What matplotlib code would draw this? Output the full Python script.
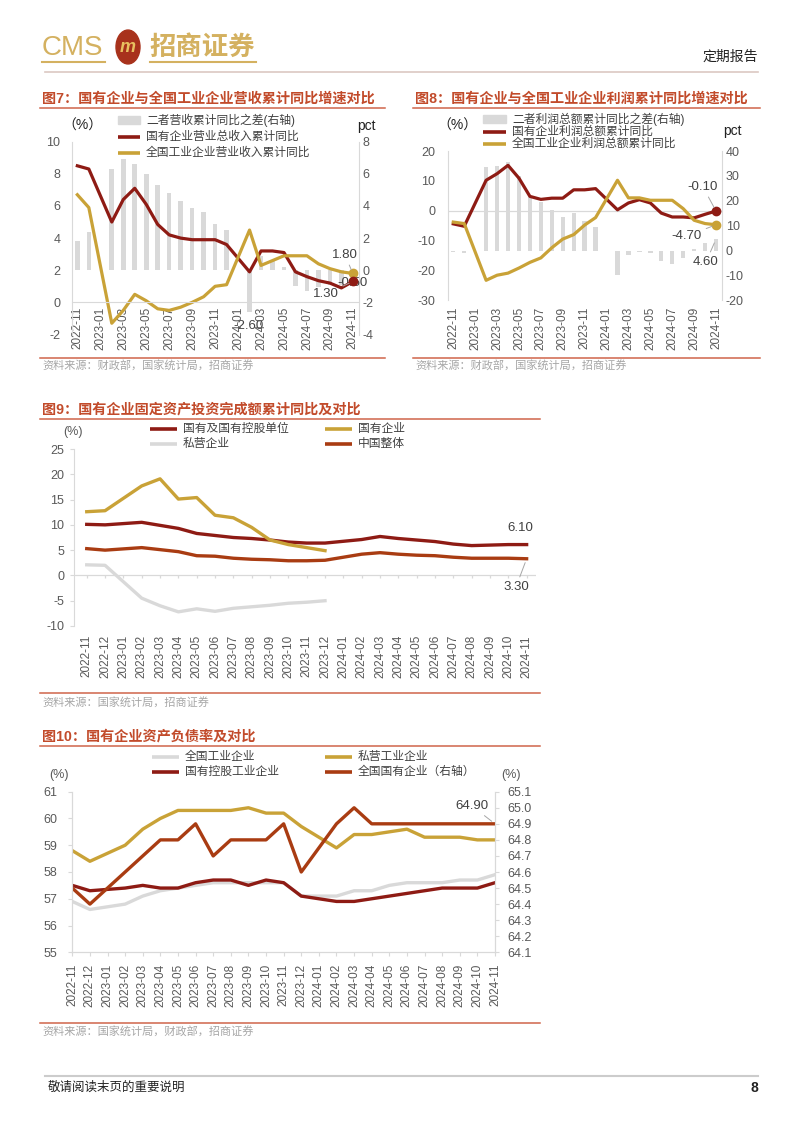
import numpy as np
import matplotlib.pyplot as plt
from matplotlib.lines import Line2D
from matplotlib.patches import Rectangle, Circle

plt.rcParams['font.family'] = ['Liberation Sans', 'Noto Sans CJK SC', 'DejaVu Sans']
plt.rcParams['axes.unicode_minus'] = False

months = ['2022-11', '2022-12', '2023-01', '2023-02', '2023-03', '2023-04', '2023-05',
          '2023-06', '2023-07', '2023-08', '2023-09', '2023-10', '2023-11', '2023-12',
          '2024-01', '2024-02', '2024-03', '2024-04', '2024-05', '2024-06', '2024-07',
          '2024-08', '2024-09', '2024-10', '2024-11']

# 图7 营收累计同比 (%), 差值 (pct)
soe_rev = [8.5, 8.3, None, 5.0, 6.4, 7.1, 6.1, 4.85, 4.2, 4.0, 3.9, 3.9, 3.9, 3.6, None,
           1.9, 3.2, 3.2, 3.1, 1.9, 1.6, 1.35, 1.2, 0.9, 1.3]
ind_rev = [6.7, 5.9, None, -1.3, -0.5, 0.5, 0.1, -0.4, -0.5, -0.3, 0.0, 0.35, 1.0, 1.1, None,
           4.5, 2.3, 2.6, 2.9, 2.9, 2.9, 2.4, 2.1, 1.9, 1.8]
rev_gap = [1.8, 2.4, None, 6.3, 6.9, 6.6, 6.0, 5.3, 4.8, 4.3, 3.9, 3.6, 2.9, 2.5, None,
           -2.6, 0.9, 0.6, 0.2, -1.0, -1.3, -1.05, -0.9, -0.9, -0.5]

# 图8 利润总额累计同比 (%), 差值 (pct)
soe_profit = [-4.4, -5.2, None, 10.2, 12.4, 15.2, 10.9, 4.8, 3.8, 4.2, 4.2, 7.0, 7.0, 7.4, None,
              0.3, 2.6, 3.7, 2.6, -0.8, -2.1, -2.1, -2.4, -1.2, -0.1]
ind_profit = [-3.8, -4.3, None, -23.3, -21.6, -20.9, -19.2, -17.3, -15.8, -12.4, -9.5, -8.0, -4.8,
              -2.3, None, 10.2, 4.3, 4.3, 3.5, 3.5, 3.5, 0.7, -3.2, -4.3, -4.7]
profit_gap = [-0.6, -0.9, None, 33.5, 34.0, 35.6, 30.1, 21.5, 19.6, 16.2, 13.4, 15.0, 11.8, 9.4,
              None, -9.9, -1.7, -0.6, -0.9, -4.3, -5.6, -2.8, 0.8, 3.0, 4.6]

# 图9 固定资产投资完成额累计同比 (%)
fai_soe_unit = [10.1, 10.0, None, 10.5, 9.9, 9.3, 8.3, 7.9, 7.5, 7.3, 7.0, 6.6, 6.4, 6.4, None,
                7.1, 7.7, 7.3, 7.0, 6.7, 6.2, 5.9, 6.0, 6.1, 6.1]
fai_soe_ent = [12.6, 12.8, None, 17.7, 19.1, 15.1, 15.4, 11.9, 11.4, 9.5, 7.0, 6.1, 5.5, 4.9,
               None, None, None, None, None, None, None, None, None, None, None]
fai_private = [2.1, 2.0, None, -4.5, -6.0, -7.2, -6.6, -7.1, -6.5, -6.2, -5.9, -5.5, -5.3, -5.0,
               None, None, None, None, None, None, None, None, None, None, None]
fai_china = [5.3, 5.0, None, 5.5, 5.1, 4.7, 3.9, 3.8, 3.4, 3.2, 3.1, 2.9, 2.9, 3.0, None,
             4.2, 4.5, 4.2, 4.0, 3.9, 3.6, 3.4, 3.4, 3.4, 3.3]

# 图10 资产负债率 (%)
lev_all_ind = [56.9, 56.6, None, 56.8, 57.1, 57.3, 57.4, 57.5, 57.6, 57.6, 57.6, 57.6, 57.6, 57.1,
               None, 57.1, 57.3, 57.3, 57.5, 57.6, 57.6, 57.6, 57.7, 57.7, 57.9]
lev_private = [58.8, 58.4, None, 59.0, 59.6, 60.0, 60.3, 60.3, 60.3, 60.3, 60.4, 60.2, 60.2, 59.7,
               None, 58.9, 59.4, 59.4, 59.5, 59.6, 59.3, 59.3, 59.3, 59.2, 59.2]
lev_soe_ind = [57.5, 57.3, None, 57.4, 57.5, 57.4, 57.4, 57.6, 57.7, 57.7, 57.5, 57.7, 57.6, 57.1,
               None, 56.9, 56.9, 57.0, 57.1, 57.2, 57.3, 57.4, 57.4, 57.4, 57.6]
lev_soe_all = [64.5, 64.4, None, 64.6, 64.7, 64.8, 64.8, 64.9, 64.7, 64.8, 64.8, 64.8, 64.9, 64.6,
               None, 64.9, 65.0, 64.9, 64.9, 64.9, 64.9, 64.9, 64.9, 64.9, 64.9]

RED = '#8E1B14'
GOLD = '#C9A237'
LGRAY = '#D9D9D9'
BROWN = '#A93C12'
TITLE = '#C24B2B'
RULE = '#D0654A'
AXC = '#D9D9D9'
TXT = '#595959'
LEG = '#404040'

W, H = 802, 1133
fig = plt.figure(figsize=(W / 100, H / 100), dpi=100)
xi = np.arange(len(months))


def add_ax(l, t, r, b):
    return fig.add_axes([l / W, 1 - b / H, (r - l) / W, (b - t) / H])


def ftext(x, y, s, **kw):
    fig.text(x / W, 1 - y / H, s, **kw)


def fline(x0, y0, x1, y1, **kw):
    fig.add_artist(Line2D([x0 / W, x1 / W], [1 - y0 / H, 1 - y1 / H], **kw))


def pts(vals):
    a = np.array(vals, dtype=float)
    m = ~np.isnan(a)
    return xi[m], a[m]


def legend_item(x, y, kind, color, label, hw=27):
    if kind == 'bar':
        fig.add_artist(Rectangle((x / W, 1 - (y + 3.5) / H), hw / W, 7 / H, color=color))
    else:
        fline(x, y, x + hw, y, color=color, lw=2.6, solid_capstyle='butt')
    ftext(x + hw + 6, y, label, va='center', fontsize=8.5, color=LEG)


def note(ax, s, xy, tx, ty, arrow=True, **kw):
    ap = dict(arrowstyle='-', color='#A6A6A6', lw=0.7, shrinkA=1, shrinkB=3) if arrow else None
    ax.annotate(s, xy=xy, xytext=(tx / W, 1 - ty / H), textcoords='figure fraction',
                ha='center', va='center', fontsize=9.5, color=LEG, arrowprops=ap,
                annotation_clip=False, **kw)


def header_block(x0, x1, title, src, ysrc, ytitle):
    ftext(x0 + 2, ytitle, title, fontsize=10.2, fontweight='bold', color=TITLE, va='center')
    fline(x0, ytitle + 8.5, x1, ytitle + 8.5, color=RULE, lw=1.1)
    fline(x0, ysrc, x1, ysrc, color=RULE, lw=1.1)
    ftext(x0 + 2, ysrc + 9, src, fontsize=8, color='#A6A6A6', va='center')


def style_y(ax, pad, length=0):
    ax.tick_params(axis='y', labelsize=9, colors=TXT, length=length, pad=pad, color=AXC)


# ---------------- page header / footer ----------------
ftext(42, 48, 'CMS', fontsize=20, color='#D4B160', va='center')
fig.add_artist(Circle((128 / W, 1 - 47 / H), 12 / W, color='#A8321C', transform=fig.transFigure))
ftext(128, 47, 'm', fontsize=13, fontweight='bold', style='italic', color='#E8C060',
      ha='center', va='center')
ftext(149, 47, '招商证券', fontsize=19, fontweight='bold', color='#D4B160', va='center')
fline(42, 62, 105, 62, color='#D4B160', lw=1.5)
fline(150, 62, 256, 62, color='#D4B160', lw=1.5)
ftext(758, 57, '定期报告', fontsize=10, color='#222222', ha='right', va='center')
fline(45, 72, 758, 72, color='#DCC8C2', lw=1.2)
fline(45, 1076, 758, 1076, color='#CCCCCC', lw=1.5)
ftext(48, 1088, '敬请阅读末页的重要说明', fontsize=9, color='#222222', va='center')
ftext(758, 1088, '8', fontsize=10, fontweight='bold', color='#222222', ha='right', va='center')

# ---------------- 图7 ----------------
header_block(40, 385, '图7：国有企业与全国工业企业营收累计同比增速对比',
             '资料来源：财政部，国家统计局，招商证券', 357.5, 99)
ax7 = add_ax(71.6, 141.7, 358.6, 334.5)
ax7r = ax7.twinx()
for a in (ax7, ax7r):
    for s in a.spines.values():
        s.set_visible(False)
ax7.spines['bottom'].set_position(('data', 0))
ax7.spines['bottom'].set_visible(True)
ax7.spines['bottom'].set_color(AXC)
ax7.spines['left'].set_visible(True)
ax7.spines['left'].set_color(AXC)
ax7r.spines['right'].set_visible(True)
ax7r.spines['right'].set_color(AXC)
ax7r.bar(xi, np.array(rev_gap, dtype=float), width=0.4, color=LGRAY)
ax7r.set_ylim(-4, 8)
ax7r.set_yticks(range(-4, 9, 2))
ax7.set_zorder(ax7r.get_zorder() + 1)
ax7.patch.set_visible(False)
ax7.plot(*pts(soe_rev), color=RED, lw=2.3)
ax7.plot(*pts(ind_rev), color=GOLD, lw=2.3)
ax7.plot(xi[-1], ind_rev[-1], 'o', color=GOLD, ms=6)
ax7.plot(xi[-1], soe_rev[-1], 'o', color=RED, ms=6)
ax7.set_xlim(-0.5, 24.5)
ax7.set_ylim(-2, 10)
ax7.set_yticks(range(-2, 11, 2))
ax7.set_xticks(xi[::2])
ax7.set_xticklabels(months[::2], rotation=90, fontsize=8.5, color=TXT)
ax7.tick_params(axis='x', length=0, pad=3)
style_y(ax7, 8)
style_y(ax7r, 3)
ftext(62, 126, '（%）', fontsize=10, color='#222222', va='center')
ftext(357, 126, 'pct', fontsize=10, color='#222222', va='center')
legend_item(118, 120, 'bar', LGRAY, '二者营收累计同比之差(右轴)', hw=22)
legend_item(118, 136.5, 'line', RED, '国有企业营业总收入累计同比', hw=22)
legend_item(118, 152.5, 'line', GOLD, '全国工业企业营业收入累计同比', hw=22)
note(ax7, '%.2f' % ind_rev[-1], (xi[-1], ind_rev[-1]), 345, 255)
note(ax7, '%.2f' % soe_rev[-1], (xi[-1], soe_rev[-1]), 326, 294)
note(ax7r, '%.2f' % rev_gap[-1], (xi[-1], rev_gap[-1]), 352, 283, arrow=False)
note(ax7r, '%.2f' % rev_gap[15], (xi[15], rev_gap[15]), 248, 326, arrow=False)

# ---------------- 图8 ----------------
header_block(413, 760, '图8：国有企业与全国工业企业利润累计同比增速对比',
             '资料来源：财政部，国家统计局，招商证券', 357.5, 99)
ax8 = add_ax(447.8, 151, 721.5, 300.3)
ax8r = ax8.twinx()
ax8r.bar(xi, np.array(profit_gap, dtype=float), width=0.4, color=LGRAY)
ax8r.set_ylim(-20, 40)
ax8r.set_yticks(range(-20, 41, 10))
ax8.set_zorder(ax8r.get_zorder() + 1)
ax8.patch.set_visible(False)
ax8.axhline(0, color=AXC, lw=0.9)
ax8.plot(*pts(soe_profit), color=RED, lw=2.3)
ax8.plot(*pts(ind_profit), color=GOLD, lw=2.3)
ax8.plot(xi[-1], soe_profit[-1], 'o', color=RED, ms=6)
ax8.plot(xi[-1], ind_profit[-1], 'o', color=GOLD, ms=6)
ax8.set_xlim(-0.5, 24.5)
ax8.set_ylim(-30, 20)
ax8.set_yticks(range(-30, 21, 10))
ax8.set_xticks(xi[::2])
ax8.set_xticklabels(months[::2], rotation=90, fontsize=8.5, color=TXT)
ax8.tick_params(axis='x', length=0, pad=4.5)
for a in (ax8, ax8r):
    for s in a.spines.values():
        s.set_visible(False)
ax8.spines['left'].set_visible(True)
ax8.spines['left'].set_color(AXC)
ax8r.spines['right'].set_visible(True)
ax8r.spines['right'].set_color(AXC)
style_y(ax8, 9)
style_y(ax8r, 3)
ftext(437, 126, '（%）', fontsize=10, color='#222222', va='center')
ftext(723, 131, 'pct', fontsize=10, color='#222222', va='center')
legend_item(483, 119, 'bar', LGRAY, '二者利润总额累计同比之差(右轴)', hw=23)
legend_item(483, 131.5, 'line', RED, '国有企业利润总额累计同比', hw=23)
legend_item(483, 143.5, 'line', GOLD, '全国工业企业利润总额累计同比', hw=23)
note(ax8, '%.2f' % soe_profit[-1], (xi[-1], soe_profit[-1]), 703, 187)
note(ax8, '%.2f' % ind_profit[-1], (xi[-1], ind_profit[-1]), 687, 236)
note(ax8r, '%.2f' % profit_gap[-1], (xi[-1], profit_gap[-1]), 706, 262)

# ---------------- 图9 ----------------
header_block(40, 540, '图9：国有企业固定资产投资完成额累计同比及对比',
             '资料来源：国家统计局，招商证券', 693, 410)
ax9 = add_ax(73.9, 449, 535.8, 626)
ax9.axhline(0, color=AXC, lw=0.9)
ax9.vlines(xi, -0.6, 0, color=AXC, lw=0.9)
ax9.plot(*pts(fai_private), color=LGRAY, lw=2.4)
ax9.plot(*pts(fai_china), color=BROWN, lw=2.4)
ax9.plot(*pts(fai_soe_unit), color=RED, lw=2.4)
ax9.plot(*pts(fai_soe_ent), color=GOLD, lw=2.4)
ax9.set_xlim(-0.7, 24.5)
ax9.set_ylim(-10, 25)
ax9.set_yticks(range(-10, 26, 5))
ax9.set_xticks(xi)
ax9.set_xticklabels(months, rotation=90, fontsize=8.5, color=TXT)
ax9.tick_params(axis='x', length=0, pad=6.5)
for s in ax9.spines.values():
    s.set_visible(False)
ax9.spines['left'].set_visible(True)
ax9.spines['left'].set_color(AXC)
style_y(ax9, 4, length=3)
ftext(73, 432, '(%)', fontsize=9, color=TXT, ha='center', va='center')
legend_item(150, 429, 'line', RED, '国有及国有控股单位')
legend_item(325, 429, 'line', GOLD, '国有企业')
legend_item(150, 444, 'line', LGRAY, '私营企业')
legend_item(325, 444, 'line', BROWN, '中国整体')
note(ax9, '%.2f' % fai_soe_unit[-1], (xi[-1], fai_soe_unit[-1]), 520, 528, arrow=False)
note(ax9, '%.2f' % fai_china[-1], (xi[-1], fai_china[-1]), 516, 587)

# ---------------- 图10 ----------------
header_block(40, 540, '图10：国有企业资产负债率及对比',
             '资料来源：国家统计局，财政部，招商证券', 1023, 737)
ax10 = add_ax(72.3, 791.7, 495, 952.3)
ax10r = ax10.twinx()
ax10.plot(*pts(lev_all_ind), color=LGRAY, lw=2.4)
ax10.plot(*pts(lev_private), color=GOLD, lw=2.4)
ax10.plot(*pts(lev_soe_ind), color=RED, lw=2.4)
ax10r.plot(*pts(lev_soe_all), color=BROWN, lw=2.4)
ax10.set_xlim(0, 24)
ax10.set_ylim(55, 61)
ax10.set_yticks(range(55, 62))
ax10r.set_ylim(64.1, 65.1)
ax10r.set_yticks(np.arange(64.1, 65.15, 0.1))
ax10r.set_yticklabels(['%.1f' % v for v in np.arange(64.1, 65.15, 0.1)])
ax10.set_xticks(xi)
ax10.set_xticklabels(months, rotation=90, fontsize=8.5, color=TXT)
ax10.tick_params(axis='x', length=3, pad=5, color=AXC)
for a in (ax10, ax10r):
    for s in a.spines.values():
        s.set_color(AXC)
    a.spines['top'].set_visible(False)
style_y(ax10, 8, length=3)
style_y(ax10r, 6, length=3)
ftext(59, 775, '(%)', fontsize=9, color=TXT, ha='center', va='center')
ftext(511, 775, '(%)', fontsize=9, color=TXT, ha='center', va='center')
legend_item(152, 756.7, 'line', LGRAY, '全国工业企业')
legend_item(325, 756.7, 'line', GOLD, '私营工业企业')
legend_item(152, 772.3, 'line', RED, '国有控股工业企业')
legend_item(325, 772.3, 'line', BROWN, '全国国有企业（右轴）')
note(ax10r, '%.2f' % lev_soe_all[-1], (xi[-1], lev_soe_all[-1]), 472, 806)

fig.savefig('out.png', dpi=100)
